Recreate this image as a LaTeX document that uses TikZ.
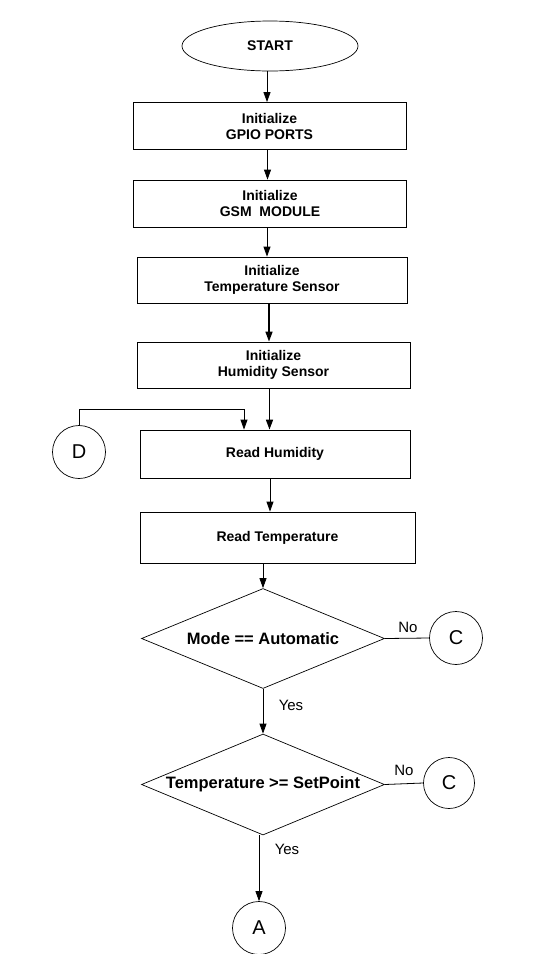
\documentclass[tikz,border=0pt]{standalone}
\usepackage{fontspec}
\setmainfont{Liberation Sans}
\usetikzlibrary{shapes.geometric,arrows.meta}
\tikzstyle{flowchart}=[
    x=1pt, y=-1pt,
    >={Triangle[length=10pt,width=7pt]},
    line/.style={black,line width=0.8pt},
    arrow/.style={line,->},
    terminal/.style={ellipse,draw,line width=0.7pt,minimum width=176pt,minimum height=50pt,inner sep=0pt,font={\bfseries\fontsize{14}{16}\selectfont}},
    process/.style={rectangle,draw,line width=0.8pt,minimum width=273pt,minimum height=47pt,align=center,inner sep=0pt,font={\bfseries\fontsize{14}{16}\selectfont}},
    decision/.style={diamond,draw,line width=0.7pt,aspect=2.45,minimum width=243pt,minimum height=100pt,inner sep=0pt,font={\bfseries\fontsize{16.5}{19}\selectfont}},
    connector/.style={circle,draw,line width=0.7pt,minimum size=53pt,inner sep=0pt,font={\fontsize{20}{24}\selectfont}},
    answer/.style={font={\fontsize{15}{18}\selectfont}}
]
\begin{document}
\begin{tikzpicture}[flowchart]
    \useasboundingbox (0,0) rectangle (542,954);
    \node[terminal] (start) at (270,46) {START};
    \node[process] (gpio) at (269.5,126) {Initialize\\GPIO PORTS};
    \node[process] (gsm) at (270,203.5) {Initialize\\GSM\ \ MODULE};
    \node[process,minimum width=270pt,minimum height=46pt] (temp) at (272,280) {Initialize\\Temperature Sensor};
    \node[process,minimum height=46pt] (hum) at (273.5,365) {Initialize\\Humidity Sensor};
    \node[process,minimum width=270pt,minimum height=48pt] (rh) at (275,454) {Read Humidity};
    \node[process,minimum width=275pt,minimum height=51pt] (rt) at (277.5,537.5) {Read Temperature};
    \node[decision] (mode) at (263,638.5) {Mode == Automatic};
    \node[decision,minimum height=101pt] (setp) at (263,784.5) {Temperature >= SetPoint};
    \node[connector] (cd) at (79,452) {D};
    \node[connector] (cc1) at (456,638) {C};
    \node[connector,minimum size=51pt] (cc2) at (449,783) {C};
    \node[connector] (ca) at (259,928) {A};

    % main column
    \foreach \a/\b/\s/\w in {start/gpio/-3/0.8, gpio/gsm/-2/0.8, gsm/temp/-3/0.8, temp/hum/-3/1.5, hum/rh/-4/1.5, rh/rt/-5/0.8}
        \draw[arrow,line width=\w pt] ([xshift=\s pt]\a.south) -- ([xshift=\s pt]\a.south |- \b.north);
    \draw[arrow] (mode.north |- rt.south) -- (mode.north);
    \draw[arrow] (mode.south) -- (setp.north);
    \draw[arrow] (ca.north |- setp.south) -- (ca.north);

    % back from D
    \coordinate (dturn) at (244,409);
    \draw[arrow] (cd.north) |- (dturn) -- (dturn |- rh.north);

    % no branches
    \draw[line] (mode.east) -- (cc1.west);
    \draw[line] (setp.east) -- (cc2.west);

    \node[answer] (yes1) at (291,705) {Yes};
    \node[answer] (yes2) at (287,849) {Yes};
    \node[answer] (no1) at (408,627) {No};
    \node[answer] (no2) at (404,770) {No};
\end{tikzpicture}
\end{document}
